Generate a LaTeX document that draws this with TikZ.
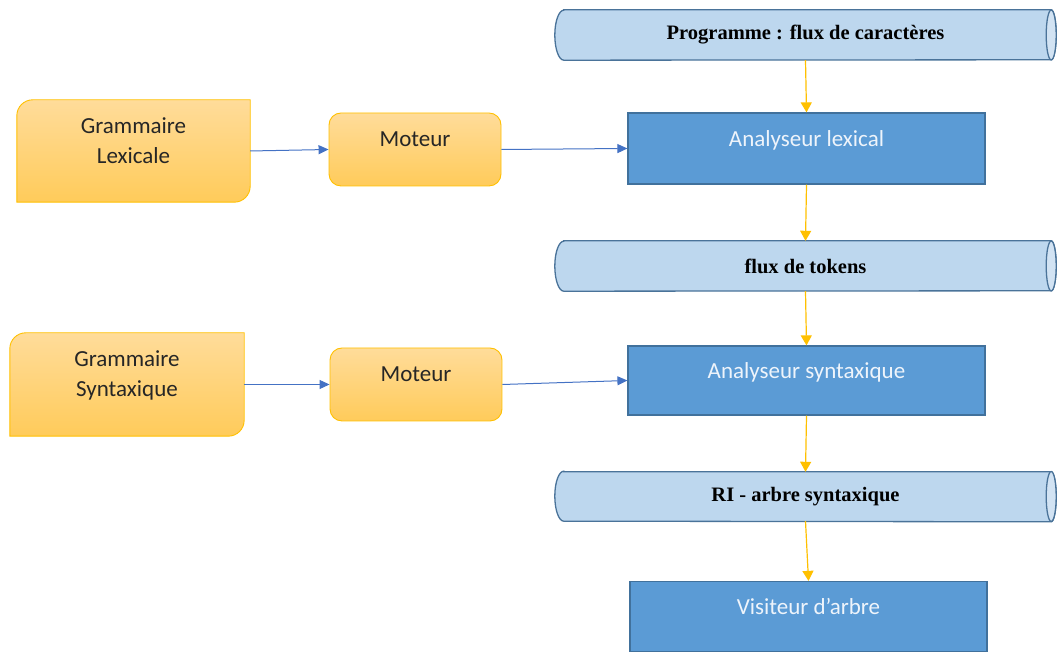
\documentclass[tikz,border=0pt]{standalone}
\usepackage{fontspec}
\setmainfont{Carlito}
\newfontfamily\serifb{Liberation Serif}
\usetikzlibrary{arrows.meta,backgrounds}
\definecolor{orTop}{HTML}{FFDC9A}
\definecolor{orBot}{HTML}{FFCB5A}
\definecolor{orLine}{HTML}{FFC000}
\definecolor{bxFill}{HTML}{5B9BD5}
\definecolor{bxLine}{HTML}{41719C}
\definecolor{cyFill}{HTML}{BDD7EE}
\definecolor{cyEnd}{HTML}{D2E3F3}
\definecolor{cyLine}{HTML}{4A7399}
\definecolor{arBlue}{HTML}{4472C4}
\definecolor{txWhite}{HTML}{EEF4FB}
\tikzset{
  pipe/.style={rectangle, minimum width=501pt, minimum height=50pt, inner sep=0pt,
    font=\serifb\bfseries\fontsize{20.5}{24}\selectfont, text=black},
  pipebody/.style={draw=cyLine, line width=1.3pt, fill=cyFill},
  pipeend/.style={draw=cyLine, line width=1.3pt, fill=cyEnd},
  stage/.style={rectangle, draw=bxLine, fill=bxFill, line width=1.2pt,
    minimum width=357pt, inner sep=0pt, text=txWhite,
    font=\fontsize{23}{27}\selectfont, text height=12pt, text depth=15pt},
  engine/.style={rectangle, rounded corners=12pt, draw=orLine, line width=0.9pt,
    top color=orTop, bottom color=orBot, minimum width=172pt, minimum height=73pt,
    inner sep=0pt, font=\fontsize{23}{27}\selectfont, text=black!85,
    text height=12pt, text depth=17pt},
  gram/.style={rectangle, minimum width=233pt, minimum height=102pt, inner sep=0pt,
    align=center, font=\fontsize{23}{30}\selectfont, text=black!85,
    text height=45pt, text depth=20pt},
  gramshape/.style={draw=orLine, line width=0.9pt, top color=orTop, bottom color=orBot},
  flow/.style={draw=orLine, line width=1.2pt, -{Triangle[length=10pt,width=11pt]}},
  feed/.style={draw=arBlue, line width=1pt, -{Triangle[length=10pt,width=9pt]}},
}
\newcommand\pipeshape[1]{%
  \path[pipebody] ([xshift=9pt]#1.north west) -- ([xshift=-5pt]#1.north east)
    arc(90:-90:5pt and 25pt) -- ([xshift=9pt]#1.south west)
    arc(270:90:9pt and 25pt) -- cycle;
  \path[pipeend] ([xshift=-5pt]#1.east) ellipse (5pt and 25pt);}
\newcommand\gramframe[1]{%
  \path[gramshape] ([xshift=16pt]#1.north west) -- (#1.north east)
    -- ([yshift=16pt]#1.south east) arc(0:-90:16pt) -- (#1.south west)
    -- ([yshift=-16pt]#1.north west) arc(180:90:16pt) -- cycle;}
\begin{document}
\begin{tikzpicture}
\useasboundingbox (0,0) rectangle (1057pt,652pt);
% right column
\node[pipe] (c1) at (805.5pt,617pt) {Programme : flux de caractères};
\node[stage, minimum height=71pt] (lex) at (806.5pt,503.5pt) {Analyseur lexical};
\node[pipe] (c2) at (805.5pt,386pt) {flux de tokens};
\node[stage, minimum height=69pt] (syn) at (806.5pt,271.5pt) {Analyseur syntaxique};
\node[pipe, minimum height=49pt] (c3) at (805.5pt,155.5pt) {RI - arbre syntaxique};
\node[stage, minimum height=70pt] (vis) at (808.5pt,35.5pt) {Visiteur d’arbre};
% grammars
\node[gram] (g1) at (133.5pt,501pt) {Grammaire\\Lexicale};
\node[gram, minimum width=234pt, minimum height=103pt] (g2) at (127pt,267.5pt) {Grammaire\\Syntaxique};
% engines
\node[engine] (m1) at (415pt,502.5pt) {Moteur};
\node[engine] (m2) at (416pt,267.5pt) {Moteur};
\begin{scope}[on background layer]
\pipeshape{c1}
\pipeshape{c2}
\pipeshape{c3}
\gramframe{g1}
\gramframe{g2}
\end{scope}
% connectors
\draw[feed] (g1.east) -- (m1.west);
\draw[feed] (m1.east) -- (lex.west);
\draw[feed] (g2.east) -- (m2.west);
\draw[feed] (m2.east) -- (syn.west);
\draw[flow] (c1.south) -- (lex.north);
\draw[flow] (lex.south) -- (c2.north);
\draw[flow] (c2.south) -- (syn.north);
\draw[flow] (syn.south) -- (c3.north);
\draw[flow] (c3.south) -- (vis.north);
\end{tikzpicture}
\end{document}
